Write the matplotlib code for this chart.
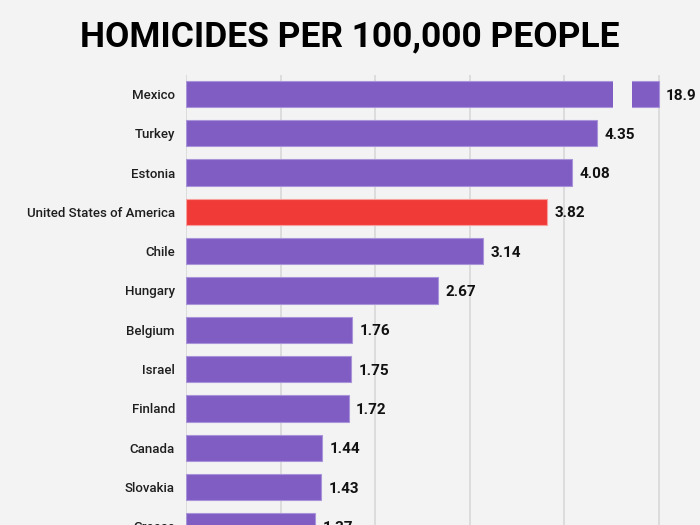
import matplotlib
matplotlib.use("Agg")
import matplotlib.pyplot as plt

countries = ["Mexico", "Turkey", "Estonia", "United States of America", "Chile",
             "Hungary", "Belgium", "Israel", "Finland", "Canada", "Slovakia", "Greece"]
values = [18.9, 4.35, 4.08, 3.82, 3.14, 2.67, 1.76, 1.75, 1.72, 1.44, 1.43, 1.37]
highlight = "United States of America"
display_cap = 5.0          # Mexico bar is drawn broken, capped at this value
break_start, break_end = 4.52, 4.72
xticks = [0, 1, 2, 3, 4, 5]

BG = "#f3f3f3"
PURPLE = "#7f5dc3"
RED = "#f03a37"
GRID = "#dcdcdc"

W, H, DPI = 7.0, 5.25, 100
fig = plt.figure(figsize=(W, H), dpi=DPI, facecolor=BG)

# axes geometry in pixels
left_px, right_px = 186, 683
top_px = 75
row_h = 39.3
first_center = 94
ytop = -(first_center - top_px) / row_h
ybot = 11.8
bottom_px = first_center + ybot * row_h
ax = fig.add_axes([left_px / 700, (525 - bottom_px) / 525,
                   (right_px - left_px) / 700, (bottom_px - top_px) / 525])
ax.set_facecolor(BG)
px_per_unit = 94.5
ax.set_xlim(0, (right_px - left_px) / px_per_unit)
ax.set_ylim(ybot, ytop)

ypos = list(range(len(countries)))
shown = [min(v, display_cap) for v in values]
colors = [RED if c == highlight else PURPLE for c in countries]
edges = ["#f7a09e" if c == highlight else "#a993d9" for c in countries]
ax.barh(ypos, shown, height=0.67, color=colors, edgecolor=edges, linewidth=0.8, zorder=3)

# axis break for the capped bar
for y, v in zip(ypos, values):
    if v > display_cap:
        ax.barh([y], [break_end - break_start], left=[break_start], height=0.75,
                color=BG, edgecolor="none", zorder=4)

for y, v, s in zip(ypos, values, shown):
    ax.text(s + 0.08, y + 0.04, f"{v:g}", va="center", ha="left",
            fontsize=11, fontweight="bold", family=["Roboto", "DejaVu Sans"],
            color="#111111", zorder=5)

ax.set_xticks(xticks)
ax.set_xticklabels([])
ax.tick_params(axis="x", length=0)
ax.grid(axis="x", color=GRID, linewidth=1.4, zorder=0)
ax.set_yticks(ypos)
ax.set_yticklabels(countries, fontsize=9.5, family=["Roboto", "DejaVu Sans"],
                   fontweight="medium", color="#1e1e1e")
ax.tick_params(axis="y", length=0, pad=8)
for sp in ax.spines.values():
    sp.set_visible(False)

fig.text(0.5, 1 - 37 / 525, "HOMICIDES PER 100,000 PEOPLE", ha="center", va="center",
         fontsize=25.5, fontweight="bold", family=["Roboto", "DejaVu Sans"], color="#000000")

fig.savefig("out.png", dpi=DPI, facecolor=BG)
